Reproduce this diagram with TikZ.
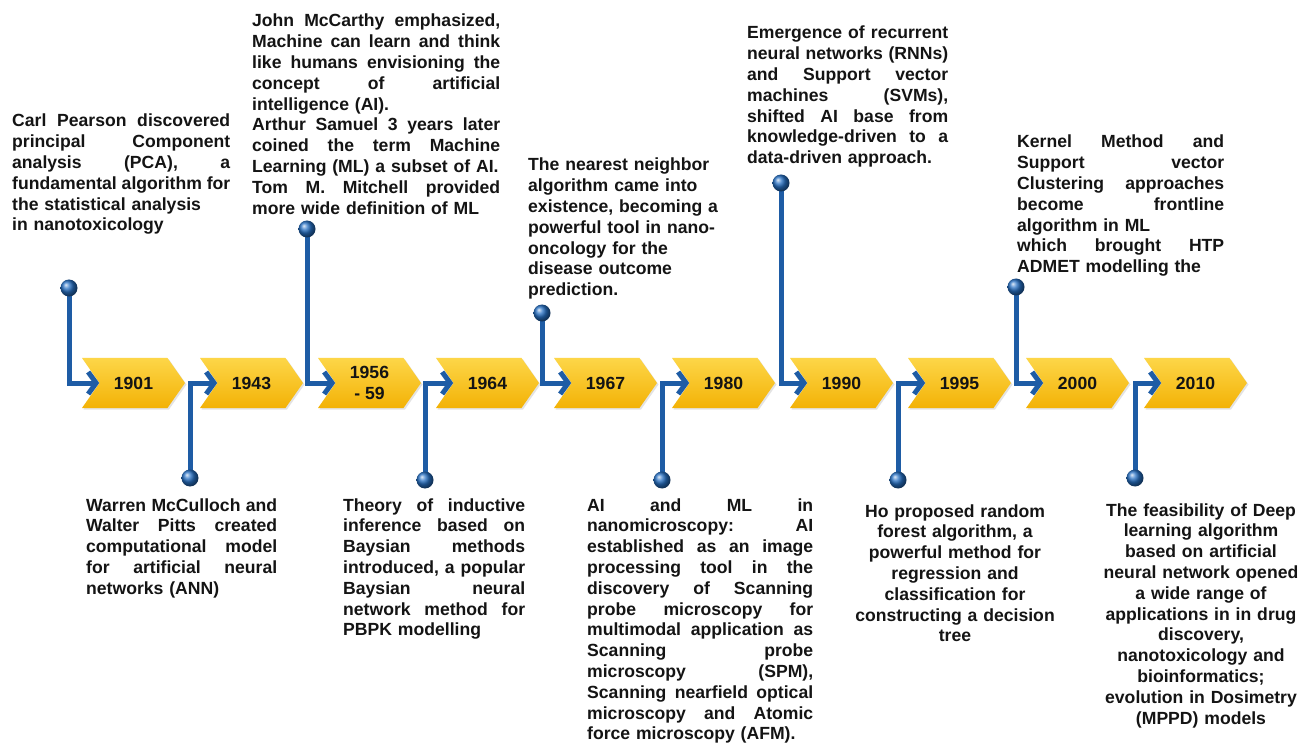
\documentclass[tikz,border=0pt]{standalone}
\usepackage{fontspec}
\setmainfont{Liberation Sans}
\usetikzlibrary{shapes.symbols,arrows.meta,shadows}

\definecolor{tlblue}{RGB}{30,92,165}
\definecolor{pinblue}{RGB}{38,112,196}
\definecolor{goldtop}{RGB}{253,214,72}
\definecolor{goldbot}{RGB}{243,178,6}
\definecolor{ink}{RGB}{20,20,20}

% width of the text block being set
\newlength\bw
% a fully justified line: the word spaces stretch to fill the block
\newcommand\J[1]{\leavevmode\hbox to\bw{\frenchspacing\spaceskip=.278em plus 1fil\relax#1}}
% a line kept at its natural width
\newcommand\N[1]{\leavevmode\hbox{#1}}

\begin{document}
\begin{tikzpicture}[x=1pt,y=-1pt,
  chev/.style={signal, signal to=east, signal from=west,
    signal pointer angle=110, minimum width=103pt, minimum height=50pt,
    inner sep=0pt, top color=goldtop, bottom color=goldbot, draw=none,
    text=ink, font=\bfseries\fontsize{17.6}{21}\selectfont, align=center,
    drop shadow={opacity=0.22, shadow xshift=1.5pt, shadow yshift=-1.5pt}},
  ball/.style={circle, minimum size=17pt, inner sep=0pt, shading=ball, ball color=pinblue},
  conn/.style={draw=tlblue, line width=5pt,
    -{Straight Barb[length=8pt, width=22pt]}},
  txt/.style={font=\bfseries\fontsize{17.6}{20.8}\selectfont, text=ink,
    inner sep=0pt, anchor=base west, align=left, text width=#1,
    execute at begin node={\setlength\bw{#1}}},
  ctxt/.style={font=\bfseries\fontsize{17.6}{20.8}\selectfont, text=ink,
    inner sep=0pt, anchor=base, align=center, text width=#1}]

\useasboundingbox[fill=white] (0,0) rectangle (1299,743);

% year chevrons
\node[chev] (c1)  at (133.5,383) {1901};
\node[chev] (c2)  at (251.5,383) {1943};
\node[chev] (c3)  at (369.5,383) {1956\\- 59};
\node[chev] (c4)  at (487.5,383) {1964};
\node[chev] (c5)  at (605.5,383) {1967};
\node[chev] (c6)  at (723.5,383) {1980};
\node[chev] (c7)  at (841.5,383) {1990};
\node[chev] (c8)  at (959.5,383) {1995};
\node[chev] (c9)  at (1077.5,383) {2000};
\node[chev] (c10) at (1195.5,383) {2010};

% pin ends
\coordinate (p1)  at (69,288);
\coordinate (p2)  at (190,478);
\coordinate (p3)  at (307,229);
\coordinate (p4)  at (425,480);
\coordinate (p5)  at (542,313);
\coordinate (p6)  at (662,480);
\coordinate (p7)  at (781,183);
\coordinate (p8)  at (898,480);
\coordinate (p9)  at (1016,287);
\coordinate (p10) at (1135,478);

% connectors from the pins into the chevron notches
\foreach \i in {1,...,10}{
  \draw[conn] (p\i) |- (c\i.west);
}

% pin heads
\foreach \i in {1,...,10}{
  \node[ball] (b\i) at (p\i) {};
}

% events above the line
\node[txt=218pt] (t1) at (12,127) {%
\J{Carl Pearson discovered}\\
\J{principal Component}\\
\J{analysis (PCA), a}\\
\J{fundamental algorithm for}\\
\N{the statistical analysis}\\
\N{in nanotoxicology}};

\node[txt=248pt] (t3) at (252,27) {%
\J{John McCarthy emphasized,}\\
\J{Machine can learn and think}\\
\J{like humans envisioning the}\\
\J{concept of artificial}\\
\N{intelligence (AI).}\\
\J{Arthur Samuel 3 years later}\\
\J{coined the term Machine}\\
\N{Learning (ML) a subset of AI.}\\
\J{Tom M. Mitchell provided}\\
\N{more wide definition of ML}};

\node[txt=200pt] (t5) at (528,171) {%
\N{The nearest neighbor}\\
\N{algorithm came into}\\
\N{existence, becoming a}\\
\N{powerful tool in nano-}\\
\N{oncology for the}\\
\N{disease outcome}\\
\N{prediction.}};

\node[txt=201pt] (t7) at (747,39) {%
\J{Emergence of recurrent}\\
\J{neural networks (RNNs)}\\
\J{and Support vector}\\
\J{machines (SVMs),}\\
\J{shifted AI base from}\\
\J{knowledge-driven to a}\\
\N{data-driven approach.}};

\node[txt=207pt] (t9) at (1017,148) {%
\J{Kernel Method and}\\
\J{Support vector}\\
\J{Clustering approaches}\\
\J{become frontline}\\
\N{algorithm in ML}\\
\J{which brought HTP}\\
\N{ADMET modelling the}};

% events below the line
\node[txt=191pt] (t2) at (86,511) {%
\J{Warren McCulloch and}\\
\J{Walter Pitts created}\\
\J{computational model}\\
\J{for artificial neural}\\
\N{networks (ANN)}};

\node[txt=182pt] (t4) at (343,511) {%
\J{Theory of inductive}\\
\J{inference based on}\\
\J{Baysian methods}\\
\J{introduced, a popular}\\
\J{Baysian neural}\\
\J{network method for}\\
\N{PBPK modelling}};

\node[txt=226pt] (t6) at (587,511) {%
\J{AI and ML in}\\
\J{nanomicroscopy: AI}\\
\J{established as an image}\\
\J{processing tool in the}\\
\J{discovery of Scanning}\\
\J{probe microscopy for}\\
\J{multimodal application as}\\
\J{Scanning probe}\\
\J{microscopy (SPM),}\\
\J{Scanning nearfield optical}\\
\J{microscopy and Atomic}\\
\N{force microscopy (AFM).}};

\node[ctxt=210pt] (t8) at (955,517) {%
Ho proposed random\\
forest algorithm, a\\
powerful method for\\
regression and\\
classification for\\
constructing a decision\\
tree};

\node[ctxt=200pt] (t10) at (1201,516) {%
The feasibility of Deep\\
learning algorithm\\
based on artificial\\
neural network opened\\
a wide range of\\
applications in in drug\\
discovery,\\
nanotoxicology and\\
bioinformatics;\\
evolution in Dosimetry\\
(MPPD) models};

\end{tikzpicture}
\end{document}
